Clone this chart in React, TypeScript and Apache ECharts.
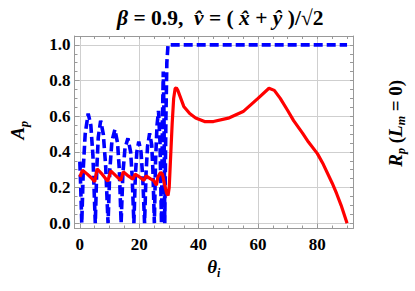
import React, { useEffect, useRef } from 'react';
import * as echarts from 'echarts';

const titleParts = ['β', ' = 0.9,  ', 'v̂', ' = ( ', 'x̂', ' + ', 'ŷ', ' )/√2'];
const xLabelTicks = [0, 20, 40, 60, 80];
const xMinorTicks = [0, 5, 10, 15, 20, 25, 30, 35, 40, 45, 50, 55, 60, 65, 70, 75, 80, 85, 90];
const yLabelTicks = [0, 0.2, 0.4, 0.6, 0.8, 1.0];
const yMinorTicks = [0, 0.05, 0.1, 0.15, 0.2, 0.25, 0.3, 0.35, 0.4, 0.45, 0.5, 0.55, 0.6, 0.65, 0.7, 0.75, 0.8, 0.85, 0.9, 0.95, 1.0];

// A_p (blue dashed)
const blueTheta = [0, 0.3, 0.65, 1.2, 1.8, 2.8, 3.7, 4.4, 5.2, 5.7, 6.2, 7.0, 7.9, 8.7, 9.5, 10.1, 10.8, 11.8, 12.7, 13.3, 13.9, 14.5, 15.2, 16.2, 17.1, 17.6, 18.2, 18.7, 19.2, 19.85, 20.6, 21.2, 21.8, 22.3, 22.8, 23.5, 24.2, 24.6, 25.1, 25.5, 26.0, 26.5, 27.0, 27.5, 27.8, 28.1, 28.35, 28.6, 29.0, 29.3, 29.7, 40, 60, 90];
const blueA = [0.345, 0.2, 0.0, 0.32, 0.5, 0.615, 0.55, 0.38, 0.0, 0.3, 0.48, 0.575, 0.5, 0.32, 0.0, 0.3, 0.46, 0.525, 0.45, 0.3, 0.0, 0.28, 0.42, 0.476, 0.4, 0.27, 0.0, 0.27, 0.4, 0.457, 0.4, 0.25, 0.0, 0.28, 0.43, 0.504, 0.44, 0.3, 0.0, 0.35, 0.55, 0.63, 0.45, 0.0, 0.55, 0.85, 0.6, 0.0, 0.6, 0.9, 1.0, 1.0, 1.0, 1.0];

// R_p (red solid)
const redTheta = [0, 0.9, 2.5, 4.0, 5.0, 5.8, 7.5, 9.4, 10.4, 12, 13.8, 14.6, 16.3, 17.9, 18.6, 20.2, 21.6, 22.3, 23.7, 24.9, 25.8, 26.3, 27.2, 27.8, 28.5, 29.2, 29.7, 30.1, 30.6, 31.1, 31.6, 32.1, 32.5, 33, 34, 35, 37, 39, 42, 45, 50, 55, 60, 63.7, 65.5, 67.5, 70, 72, 75, 77, 80, 82, 85, 86.5, 88, 89, 90];
const redR = [0.26, 0.297, 0.275, 0.252, 0.232, 0.305, 0.275, 0.235, 0.293, 0.268, 0.24, 0.288, 0.265, 0.247, 0.275, 0.258, 0.24, 0.265, 0.25, 0.238, 0.213, 0.26, 0.285, 0.275, 0.22, 0.17, 0.155, 0.2, 0.38, 0.56, 0.7, 0.755, 0.76, 0.745, 0.7, 0.655, 0.615, 0.59, 0.57, 0.57, 0.589, 0.626, 0.7, 0.757, 0.745, 0.7, 0.632, 0.575, 0.505, 0.455, 0.39, 0.33, 0.224, 0.165, 0.1, 0.05, 0.0];

const FONT = 'Liberation Serif';
const FRAME = '#999999';
const GRID = '#cfcfcf';

export default function App() {
  const ref = useRef<HTMLDivElement>(null);
  useEffect(() => {
    if (!ref.current) return;
    const chart = echarts.init(ref.current, null, { renderer: 'svg' });
    const xBase = { type: 'value', min: -1.8, max: 92 };
    const yBase = { type: 'value', min: -0.03, max: 1.05 };
    const titleText =
      `{i|${titleParts[0]}}{b|${titleParts[1]}}{i|${titleParts[2]}}{b|${titleParts[3]}}{i|${titleParts[4]}}{b|${titleParts[5]}}{i|${titleParts[6]}}{b|${titleParts[7]}}`;
    const nameRich = {
      t: { fontFamily: FONT, fontSize: 19, fontWeight: 'bold', fontStyle: 'italic', color: '#000', lineHeight: 24 },
      n: { fontFamily: FONT, fontSize: 19, fontWeight: 'bold', color: '#000', lineHeight: 24 },
      s: { fontFamily: FONT, fontSize: 12, fontWeight: 'bold', fontStyle: 'italic', color: '#000', lineHeight: 15, verticalAlign: 'bottom' },
    };
    const labelRich = { d: { fontFamily: FONT, fontSize: 17, fontWeight: 'bold', color: '#000' } };
    chart.setOption({
      animation: false,
      title: {
        text: titleText,
        left: 112,
        top: 2,
        textStyle: {
          rich: {
            i: { fontFamily: FONT, fontSize: 21.5, fontWeight: 'bold', fontStyle: 'italic', color: '#000' },
            b: { fontFamily: FONT, fontSize: 21.5, fontWeight: 'bold', color: '#000' },
          },
        },
      },
      grid: { left: 63, right: 35, top: 36, bottom: 62.5, containLabel: false },
      xAxis: [
        {
          ...xBase,
          position: 'bottom',
          axisLine: { show: true, onZero: false, lineStyle: { color: FRAME, width: 1 } },
          axisTick: { show: true, inside: true, length: 5, customValues: xLabelTicks, lineStyle: { color: FRAME } },
          axisLabel: {
            show: true, customValues: xLabelTicks, margin: 7,
            fontFamily: FONT, fontSize: 17, fontWeight: 'bold', color: '#000',
            rich: labelRich,
            formatter: (v: number) => `{d|${Math.round(v)}}`,
          },
          splitLine: { show: true, lineStyle: { color: GRID, width: 1 } },
          name: '{t|θ}{s|i}',
          nameLocation: 'middle',
          nameGap: 26,
          nameTextStyle: { rich: nameRich },
        },
        {
          ...xBase,
          position: 'bottom',
          axisLine: { show: false, onZero: false },
          axisTick: { show: true, inside: true, length: 3, customValues: xMinorTicks, lineStyle: { color: FRAME } },
          axisLabel: { show: false },
          splitLine: { show: false },
        },
        {
          ...xBase,
          position: 'top',
          axisLine: { show: true, onZero: false, lineStyle: { color: FRAME, width: 1 } },
          axisTick: { show: true, inside: true, length: 3, customValues: xMinorTicks, lineStyle: { color: FRAME } },
          axisLabel: { show: false },
          splitLine: { show: false },
        },
      ],
      yAxis: [
        {
          ...yBase,
          position: 'left',
          axisLine: { show: true, onZero: false, lineStyle: { color: FRAME, width: 1 } },
          axisTick: { show: true, inside: true, length: 5, customValues: yLabelTicks, lineStyle: { color: FRAME } },
          axisLabel: {
            show: true, customValues: yLabelTicks, margin: 4,
            fontFamily: FONT, fontSize: 17, fontWeight: 'bold', color: '#000',
            rich: labelRich,
            formatter: (v: number) => `{d|${v.toFixed(1)}}`,
          },
          splitLine: { show: true, lineStyle: { color: GRID, width: 1 } },
          name: '{t|A}{s|p}',
          nameLocation: 'middle',
          nameRotate: 90,
          nameGap: 45,
          nameTextStyle: { rich: nameRich, padding: [0, 0, 0, 4] },
        },
        {
          ...yBase,
          position: 'left',
          axisLine: { show: false, onZero: false },
          axisTick: { show: true, inside: true, length: 3, customValues: yMinorTicks, lineStyle: { color: FRAME } },
          axisLabel: { show: false },
          splitLine: { show: false },
        },
        {
          ...yBase,
          position: 'right',
          axisLine: { show: true, onZero: false, lineStyle: { color: FRAME, width: 1 } },
          axisTick: { show: true, inside: true, length: 3, customValues: yMinorTicks, lineStyle: { color: FRAME } },
          axisLabel: { show: false },
          splitLine: { show: false },
          name: '{t|R}{s|p}{n| (}{t|L}{s|m}{n| = 0)}',
          nameLocation: 'middle',
          nameRotate: 90,
          nameGap: 30,
          nameTextStyle: { rich: nameRich, padding: [0, 0, 0, 18] },
        },
      ],
      series: [
        {
          type: 'line',
          xAxisIndex: 0,
          yAxisIndex: 0,
          symbol: 'none',
          showSymbol: false,
          z: 3,
          lineStyle: { color: '#0000ff', width: 3.6, type: [9, 4] },
          data: blueTheta.map((t, i) => [t, blueA[i]]),
        },
        {
          type: 'line',
          xAxisIndex: 0,
          yAxisIndex: 0,
          symbol: 'none',
          showSymbol: false,
          z: 4,
          lineStyle: { color: '#ff0000', width: 3.2 },
          data: redTheta.map((t, i) => [t, redR[i]]),
        },
      ],
    });
    return () => chart.dispose();
  }, []);
  return <div ref={ref} style={{ position: 'absolute', left: 0, top: 0, width: 415, height: 291 }} />;
}
